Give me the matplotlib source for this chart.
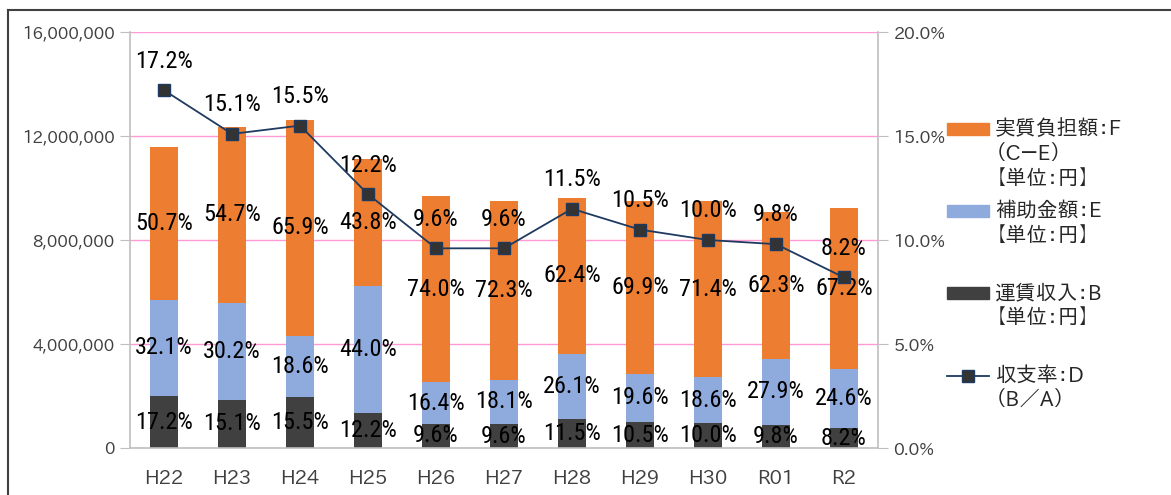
import matplotlib.pyplot as plt
import matplotlib.patches as mpatches
from matplotlib.lines import Line2D
from matplotlib.ticker import FuncFormatter
from matplotlib import font_manager
import numpy as np

years = ["H22", "H23", "H24", "H25", "H26", "H27", "H28", "H29", "H30", "R01", "R2"]
# 運賃収入:B (円)
fare = [1990000, 1860000, 1960000, 1360000, 930000, 910000, 1110000, 1000000, 950000, 890000, 760000]
# 補助金額:E (円)
subsidy = [3720000, 3730000, 2350000, 4890000, 1590000, 1720000, 2510000, 1860000, 1770000, 2530000, 2270000]
# 実質負担額:F (円)
burden = [5870000, 6760000, 8320000, 4870000, 7170000, 6870000, 6000000, 6640000, 6780000, 5660000, 6200000]
# 収支率:D (%)
ratio = [17.2, 15.1, 15.5, 12.2, 9.6, 9.6, 11.5, 10.5, 10.0, 9.8, 8.2]
# shares shown inside the bars (%)
fare_pct = [17.2, 15.1, 15.5, 12.2, 9.6, 9.6, 11.5, 10.5, 10.0, 9.8, 8.2]
subsidy_pct = [32.1, 30.2, 18.6, 44.0, 16.4, 18.1, 26.1, 19.6, 18.6, 27.9, 24.6]
burden_pct = [50.7, 54.7, 65.9, 43.8, 74.0, 72.3, 62.4, 69.9, 71.4, 62.3, 67.2]


def first_font(cands):
    have = set(f.name for f in font_manager.fontManager.ttflist)
    for c in cands:
        if c in have:
            return c
    return cands[-1]


NARROW = [first_font(['Roboto Condensed', 'Archivo Narrow', 'PT Sans Narrow', 'DejaVu Sans']), 'DejaVu Sans']
GOTHIC = [first_font(['IPAPGothic', 'Noto Sans CJK JP']), 'Noto Sans CJK JP', 'DejaVu Sans']
plt.rcParams['font.family'] = GOTHIC

C_DARK = "#404040"
C_BLUE = "#8FAADC"
C_ORANGE = "#ED7D31"
C_LINE = "#1F3A60"
C_GRID = "#FF9AD5"
C_AXIS = "#BFBFBF"
C_TICK = "#404040"

W, H = 1171, 495
fig = plt.figure(figsize=(W / 100, H / 100), dpi=100)
ax = fig.add_axes([130 / W, 1 - 448 / H, (878 - 130) / W, (448 - 32) / H])

x = np.arange(len(years))
fare = np.array(fare)
subsidy = np.array(subsidy)
burden = np.array(burden)
bw = 0.41

b1 = ax.bar(x, fare, bw, color=C_DARK, zorder=2)
b2 = ax.bar(x, subsidy, bw, bottom=fare, color=C_BLUE, zorder=2)
b3 = ax.bar(x, burden, bw, bottom=fare + subsidy, color=C_ORANGE, zorder=2)

for bars, pct in [(b1, fare_pct), (b2, subsidy_pct), (b3, burden_pct)]:
    ax.bar_label(bars, labels=[f"{p:.1f}%" for p in pct], label_type='center',
                 fontsize=17.5, family=NARROW, color='black')

ax.set_xlim(-0.5, len(years) - 0.5)
ax.set_ylim(0, 16000000)
ax.set_yticks(np.arange(0, 16000001, 4000000))
ax.yaxis.set_major_formatter(FuncFormatter(lambda v, p: f"{int(v):,}"))
ax.set_xticks(x)
ax.set_xticklabels(years)
ax.tick_params(axis='x', length=0, pad=16, labelsize=14, labelcolor=C_TICK)
ax.tick_params(axis='y', length=7, color=C_AXIS, labelsize=12, labelcolor=C_TICK, pad=4)
ax.grid(axis='y', color=C_GRID, lw=1, zorder=0)
ax.set_axisbelow(True)
for s in ['top', 'right']:
    ax.spines[s].set_visible(False)
for s in ['left', 'bottom']:
    ax.spines[s].set_color(C_AXIS)
    ax.spines[s].set_linewidth(1.2)

# 収支率 on the right axis
ax2 = ax.twinx()
ax2.plot(x, ratio, color=C_LINE, lw=1.3, marker='s', markersize=8.5,
         markerfacecolor='#333333', markeredgecolor=C_LINE, markeredgewidth=1, zorder=5)
for i, v in enumerate(ratio):
    ax2.annotate(f"{v:.1f}%", (i, v), xytext=(0, 21), textcoords='offset points',
                 ha='center', va='center', fontsize=17.5, family=NARROW, color='black')
ax2.set_ylim(0, 20)
ax2.set_yticks(np.arange(0, 20.1, 5))
ax2.yaxis.set_major_formatter(FuncFormatter(lambda v, p: f"{v:.1f}%"))
ax2.tick_params(axis='y', length=7, color=C_AXIS, labelsize=12.5, labelcolor=C_TICK, pad=4)
for s in ['top', 'left', 'bottom']:
    ax2.spines[s].set_visible(False)
ax2.spines['right'].set_color(C_AXIS)
ax2.spines['right'].set_linewidth(1.2)


# legend, drawn by hand so the keys sit on the first text line
def px(xp, yp):
    return xp / W, 1 - yp / H


legend_items = [
    ("patch", C_ORANGE, 129, "実質負担額：F\n（C－E）\n【単位：円】"),
    ("patch", C_BLUE, 211, "補助金額：E\n【単位：円】"),
    ("patch", C_DARK, 293, "運賃収入：B\n【単位：円】"),
    ("line", C_LINE, 376, "収支率：D\n（B／A）"),
]
for kind, col, yc, label in legend_items:
    if kind == "patch":
        x0, y0 = px(947, yc + 6)
        fig.add_artist(mpatches.Rectangle((x0, y0), 42 / W, 12 / H, color=col,
                                          transform=fig.transFigure))
    else:
        xa, ya = px(947, yc)
        xb, _ = px(989, yc)
        fig.add_artist(Line2D([xa, xb], [ya, ya], color=col, lw=1.3,
                              transform=fig.transFigure))
        fig.add_artist(Line2D([(xa + xb) / 2], [ya], color=col, marker='s',
                              markersize=8.5, markerfacecolor='#333333',
                              markeredgecolor=col, transform=fig.transFigure))
    tx, ty = px(995, yc - 10)
    fig.text(tx, ty, label, ha='left', va='top', fontsize=15, color='#262626',
             linespacing=1.3)

# outer frame of the chart area (top and left edges)
fx, fy = px(8, 10)
fig.add_artist(Line2D([fx, 1], [fy, fy], color='#404040', lw=1.5, transform=fig.transFigure))
fig.add_artist(Line2D([fx, fx], [0, fy], color='#404040', lw=1.5, transform=fig.transFigure))

fig.savefig("out.png", dpi=100)
